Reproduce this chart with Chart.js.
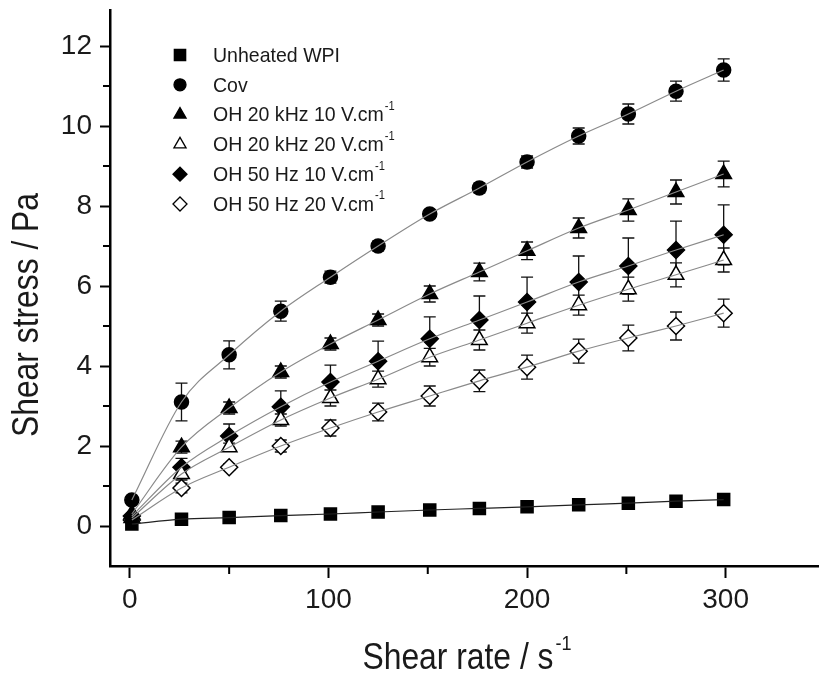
<!DOCTYPE html>
<html>
<head>
<meta charset="utf-8">
<script src="https://cdn.jsdelivr.net/npm/chart.js@4.4.1/dist/chart.umd.min.js"></script>
<style>
  html, body { margin: 0; padding: 0; background: #fff; }
  canvas { display: block; }
</style>
</head>
<body>
<canvas id="c" width="819" height="676"></canvas>
<script>
// ── Data ──────────────────────────────────────────────────────
const shearRate = [1, 26, 50, 76, 101, 125, 151, 176, 200, 226, 251, 275, 299];

const unheated   = [0.05, 0.17, 0.21, 0.26, 0.30, 0.35, 0.40, 0.44, 0.48, 0.53, 0.57, 0.62, 0.66];
const cov        = [0.65, 3.10, 4.28, 5.37, 6.22, 7.00, 7.80, 8.45, 9.10, 9.75, 10.30, 10.87, 11.40];
const covErr     = [0, 0.47, 0.35, 0.25, 0.15, 0.12, 0.10, 0.12, 0.15, 0.20, 0.25, 0.25, 0.28];
const oh20k10    = [0.30, 1.97, 2.95, 3.85, 4.55, 5.15, 5.80, 6.35, 6.88, 7.45, 7.90, 8.35, 8.80];
const oh20k10Err = [0, 0.15, 0.15, 0.15, 0.15, 0.15, 0.20, 0.22, 0.22, 0.25, 0.28, 0.30, 0.32];
const oh20k20    = [0.20, 1.30, 1.97, 2.65, 3.20, 3.67, 4.22, 4.65, 5.07, 5.52, 5.92, 6.28, 6.65];
const oh20k20Err = [0, 0.15, 0.10, 0.15, 0.20, 0.20, 0.22, 0.25, 0.25, 0.25, 0.30, 0.30, 0.30];
const oh50h10    = [0.25, 1.47, 2.25, 2.98, 3.60, 4.12, 4.68, 5.15, 5.60, 6.10, 6.50, 6.90, 7.28];
const oh50h10Err = [0, 0.22, 0.30, 0.40, 0.42, 0.50, 0.55, 0.60, 0.62, 0.65, 0.70, 0.72, 0.75];
const oh50h20    = [0.15, 0.95, 1.47, 2.00, 2.45, 2.85, 3.25, 3.63, 3.97, 4.37, 4.70, 5.00, 5.32];
const oh50h20Err = [0, 0.12, 0.08, 0.15, 0.20, 0.22, 0.25, 0.27, 0.30, 0.30, 0.32, 0.35, 0.35];

const seriesLabels = ['Unheated WPI', 'Cov', 'OH 20 kHz 10 V.cm', 'OH 20 kHz 20 V.cm', 'OH 50 Hz 10 V.cm', 'OH 50 Hz 20 V.cm'];
const labelSup     = ['', '', '-1', '-1', '-1', '-1'];

const xMajor = [0, 100, 200, 300];
const xMinor = [50, 150, 250];
const yMajor = [0, 2, 4, 6, 8, 10, 12];
const yMinor = [1, 3, 5, 7, 9, 11];

const xTitle = 'Shear rate / s';
const xTitleSup = '-1';
const yTitle = 'Shear stress / Pa';

// ── Styles ────────────────────────────────────────────────────
const FONT = "'Liberation Sans', Arial, sans-serif";
const INK  = '#1a1a1a';
const SQUEEZE = 0.86;   // reference uses a narrow face

const series = [
  { label: seriesLabels[0], y: unheated, err: null,       style: 'rect',    r: 8.5, fill: '#000', line: '#222' },
  { label: seriesLabels[1], y: cov,      err: covErr,     style: 'circle',  r: 7,   fill: '#000', line: '#8a8a8a' },
  { label: seriesLabels[2], y: oh20k10,  err: oh20k10Err, style: 'triangle',r: 9,   fill: '#000', line: '#8a8a8a' },
  { label: seriesLabels[3], y: oh20k20,  err: oh20k20Err, style: 'triangle',r: 9,   fill: '#fff', line: '#8a8a8a' },
  { label: seriesLabels[4], y: oh50h10,  err: oh50h10Err, style: 'rectRot', r: 8.5, fill: '#000', line: '#8a8a8a' },
  { label: seriesLabels[5], y: oh50h20,  err: oh50h20Err, style: 'rectRot', r: 8.5, fill: '#fff', line: '#8a8a8a' }
];

const toXY = arr => arr.map((v, i) => ({ x: shearRate[i], y: v }));

// point datasets (order 1) + gray curves drawn on top of them (order 0)
const datasets = [];
series.forEach(s => {
  datasets.push({
    label: s.label,
    data: toXY(s.y),
    pointStyle: s.style,
    pointRadius: s.r,
    pointHoverRadius: s.r,
    pointBackgroundColor: s.fill,
    pointBorderColor: '#000',
    pointBorderWidth: 1.5,
    showLine: false,
    order: 1
  });
});
series.forEach(s => {
  datasets.push({
    label: s.label + ' fit',
    data: toXY(s.y),
    showLine: true,
    pointRadius: 0,
    borderColor: s.line,
    borderWidth: 1.2,
    cubicInterpolationMode: 'monotone',
    fill: false,
    order: 0
  });
});

// ── Error bars (behind the markers) ───────────────────────────
const errorBars = {
  id: 'errorBars',
  beforeDatasetsDraw(chart) {
    const ctx = chart.ctx;
    const yS = chart.scales.y;
    ctx.save();
    ctx.strokeStyle = '#111';
    ctx.lineWidth = 1.3;
    series.forEach((s, si) => {
      if (!s.err) return;
      const meta = chart.getDatasetMeta(si);
      s.y.forEach((v, i) => {
        const e = s.err[i];
        if (!e) return;
        const px = meta.data[i].x;
        const top = yS.getPixelForValue(v + e);
        const bot = yS.getPixelForValue(v - e);
        ctx.beginPath();
        ctx.moveTo(px, top); ctx.lineTo(px, bot);
        ctx.moveTo(px - 6, top); ctx.lineTo(px + 6, top);
        ctx.moveTo(px - 6, bot); ctx.lineTo(px + 6, bot);
        ctx.stroke();
      });
    });
    ctx.restore();
  }
};

// ── Marker for the legend ─────────────────────────────────────
function marker(ctx, style, x, y, r, fill) {
  ctx.beginPath();
  if (style === 'rect') {
    const h = r * Math.SQRT1_2;
    ctx.rect(x - h, y - h, 2 * h, 2 * h);
  } else if (style === 'circle') {
    ctx.arc(x, y, r, 0, Math.PI * 2);
  } else if (style === 'triangle') {
    ctx.moveTo(x, y - r);
    ctx.lineTo(x + r * 0.866, y + r * 0.5);
    ctx.lineTo(x - r * 0.866, y + r * 0.5);
    ctx.closePath();
  } else {
    ctx.moveTo(x - r, y); ctx.lineTo(x, y - r);
    ctx.lineTo(x + r, y); ctx.lineTo(x, y + r);
    ctx.closePath();
  }
  ctx.fillStyle = fill;
  ctx.fill();
  ctx.lineWidth = 1.3;
  ctx.strokeStyle = '#000';
  ctx.stroke();
}

// text squeezed horizontally, anchored at its left edge
function narrowText(ctx, txt, x, y, k) {
  ctx.save();
  ctx.translate(x, y);
  ctx.scale(k, 1);
  ctx.fillText(txt, 0, 0);
  ctx.restore();
  return ctx.measureText(txt).width * k;
}

// ── Minor ticks, axis titles, legend ──────────────────────────
const decorations = {
  id: 'decorations',
  afterDraw(chart) {
    const ctx = chart.ctx;
    const xS = chart.scales.x, yS = chart.scales.y;
    const area = chart.chartArea;
    ctx.save();

    // minor ticks
    ctx.strokeStyle = '#000';
    ctx.lineWidth = 2;
    ctx.beginPath();
    xMinor.forEach(v => {
      const px = xS.getPixelForValue(v);
      ctx.moveTo(px, area.bottom); ctx.lineTo(px, area.bottom + 8);
    });
    yMinor.forEach(v => {
      const py = yS.getPixelForValue(v);
      ctx.moveTo(area.left, py); ctx.lineTo(area.left - 7, py);
    });
    ctx.stroke();

    ctx.fillStyle = INK;
    ctx.textAlign = 'left';
    ctx.textBaseline = 'alphabetic';

    // x title with superscript
    ctx.font = '37px ' + FONT;
    const wMain = ctx.measureText(xTitle).width * SQUEEZE;
    ctx.font = '21px ' + FONT;
    const wSup = ctx.measureText(xTitleSup).width * SQUEEZE;
    const x0 = 466 - (wMain + wSup) / 2;
    ctx.font = '37px ' + FONT;
    narrowText(ctx, xTitle, x0, 669, SQUEEZE);
    ctx.font = '21px ' + FONT;
    narrowText(ctx, xTitleSup, x0 + wMain + 2, 650, SQUEEZE);

    // y title
    ctx.save();
    ctx.translate(38, 315);
    ctx.rotate(-Math.PI / 2);
    ctx.font = '37px ' + FONT;
    const wy = ctx.measureText(yTitle).width * SQUEEZE;
    narrowText(ctx, yTitle, -wy / 2, 0, SQUEEZE);
    ctx.restore();

    // legend
    series.forEach((s, i) => {
      const ly = 55 + i * 29.8;
      const mr = s.style === 'rect' ? 8 : s.style === 'circle' ? 6 : 7;
      marker(ctx, s.style, 180, ly, mr, s.fill);
      ctx.fillStyle = INK;
      ctx.textBaseline = 'middle';
      ctx.font = '21px ' + FONT;
      const w = narrowText(ctx, s.label, 213, ly + 1, 0.93);
      if (labelSup[i]) {
        ctx.font = '12px ' + FONT;
        narrowText(ctx, labelSup[i], 213 + w + 1, ly - 8, 0.93);
      }
    });

    ctx.restore();
  }
};

// ── Chart ─────────────────────────────────────────────────────
new Chart(document.getElementById('c'), {
  type: 'scatter',
  data: { datasets },
  options: {
    responsive: false,
    animation: false,
    events: [],
    layout: { autoPadding: false, padding: { top: 10, right: 0, left: 0, bottom: 0 } },
    plugins: { legend: { display: false }, tooltip: { enabled: false } },
    scales: {
      x: {
        type: 'linear',
        min: -10,
        max: 347,
        afterFit: s => { s.height = 110; },
        afterBuildTicks: s => { s.ticks = xMajor.map(v => ({ value: v })); },
        grid: { display: true, drawOnChartArea: false, drawTicks: true, tickLength: 12, tickWidth: 2, tickColor: '#000' },
        border: { display: true, color: '#000', width: 2.5 },
        ticks: { color: INK, font: { family: FONT, size: 28 }, padding: 5, autoSkip: false, maxRotation: 0 }
      },
      y: {
        type: 'linear',
        min: -1,
        max: 12.9,
        afterFit: s => { s.width = 110; s.paddingTop = 0; s.paddingBottom = 0; },
        afterBuildTicks: s => { s.ticks = yMajor.map(v => ({ value: v })); },
        grid: { display: true, drawOnChartArea: false, drawTicks: true, tickLength: 10, tickWidth: 2, tickColor: '#000' },
        border: { display: true, color: '#000', width: 2.5 },
        ticks: { color: INK, font: { family: FONT, size: 28, lineHeight: 0.6 }, padding: 8, autoSkip: false }
      }
    }
  },
  plugins: [errorBars, decorations]
});
</script>
</body>
</html>
